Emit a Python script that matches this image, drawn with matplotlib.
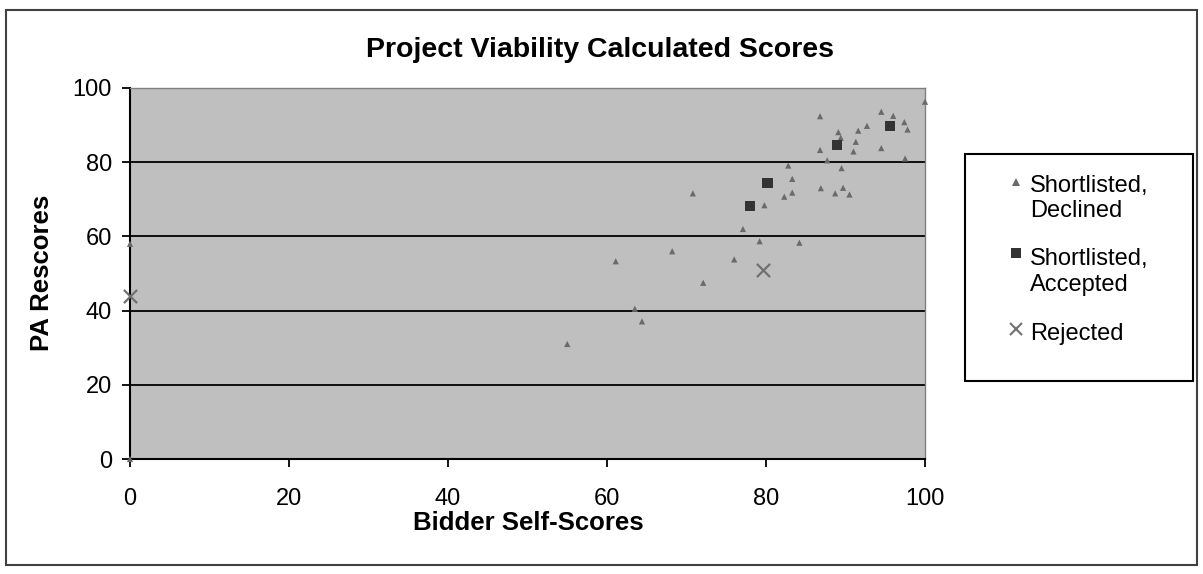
import matplotlib.pyplot as plt
from matplotlib.patches import Rectangle
from matplotlib.lines import Line2D

plt.rcParams['font.family'] = ['Liberation Sans', 'DejaVu Sans']

# Shortlisted, Declined
declined_x = [0, 0, 55, 61.1, 63.5, 64.4, 68.2, 70.8, 72.1, 76, 77.1, 79.2, 79.8,
              82.3, 83.3, 82.8, 83.3, 84.2, 86.8, 86.8, 86.9, 87.7, 88.7, 89.1,
              89.4, 89.5, 89.7, 90.5, 91, 91.3, 91.6, 92.7, 94.5, 94.5, 96, 97.4,
              97.8, 97.5, 100]
declined_y = [0, 58, 31, 53.3, 40.5, 37.1, 56, 71.6, 47.5, 53.8, 62, 58.7, 68.4,
              70.7, 71.8, 79.1, 75.5, 58.3, 92.4, 83.3, 73, 80.5, 71.6, 88.1,
              86.6, 78.4, 73.1, 71.3, 82.9, 85.5, 88.5, 89.8, 93.6, 83.8, 92.5, 90.8,
              88.8, 81, 96.3]

# Shortlisted, Accepted
accepted_x = [78, 80.2, 88.9, 95.6]
accepted_y = [68.2, 74.4, 84.6, 89.8]

# Rejected
rejected_x = [0, 79.6]
rejected_y = [43.9, 50.9]

ticks = [0, 20, 40, 60, 80, 100]

W, H = 1203, 574


def px(x):
    return x / W


def py(y):
    return 1 - y / H


fig = plt.figure(figsize=(W / 100, H / 100), dpi=100)
ax = fig.add_axes([px(130), py(459), px(925) - px(130), py(88) - py(459)])
ax.set_facecolor('#bfbfbf')

ax.scatter(declined_x, declined_y, marker='^', s=20, color='#6a6a6a',
           edgecolors='none', clip_on=False, zorder=3)
ax.scatter(accepted_x, accepted_y, marker='s', s=55, color='#333333',
           edgecolors='none', clip_on=False, zorder=4)
ax.scatter(rejected_x, rejected_y, marker='x', s=90, color='#707070',
           linewidths=1.6, clip_on=False, zorder=4)

ax.set_xlim(0, 100)
ax.set_ylim(0, 100)
ax.set_xticks(ticks)
ax.set_yticks(ticks)
ax.yaxis.grid(True, color='black', linewidth=1.3)
ax.set_axisbelow(True)
ax.tick_params(labelsize=17, length=6, width=1.3, direction='out')
ax.tick_params(axis='y', pad=7)
ax.tick_params(axis='x', pad=15)
for s in ['left', 'bottom']:
    ax.spines[s].set_linewidth(1.5)
    ax.spines[s].set_color('black')
for s in ['top', 'right']:
    ax.spines[s].set_linewidth(1)
    ax.spines[s].set_color('#808080')

fig.text(px(600), py(50), 'Project Viability Calculated Scores', fontsize=20.5,
         fontweight='bold', ha='center', va='center')
fig.text(px(528), py(523), 'Bidder Self-Scores', fontsize=18.5,
         fontweight='bold', ha='center', va='center')
fig.text(px(42), py(273), 'PA Rescores', fontsize=18.5, fontweight='bold',
         rotation=90, ha='center', va='center')

# outer chart border and legend box
fig.add_artist(Rectangle((px(6), py(565)), px(1197) - px(6), py(10) - py(565),
                         transform=fig.transFigure, fill=False,
                         edgecolor='#404040', linewidth=1.5))
fig.add_artist(Rectangle((px(965), py(381)), px(1193) - px(965), py(154) - py(381),
                         transform=fig.transFigure, fill=False,
                         edgecolor='black', linewidth=1.5))

legend_marks = [('^', '#6a6a6a', 6, 182), ('s', '#333333', 7, 253), ('x', '#707070', 9, 329)]
for m, c, ms, y in legend_marks:
    fig.add_artist(Line2D([px(1016)], [py(y)], marker=m, color=c, markersize=ms,
                          markeredgewidth=1.5 if m == 'x' else 0,
                          transform=fig.transFigure))

legend_lines = [('Shortlisted,', 192), ('Declined', 217), ('Shortlisted,', 265),
                ('Accepted', 291), ('Rejected', 340)]
for txt, y in legend_lines:
    fig.text(px(1030), py(y), txt, fontsize=17, ha='left', va='baseline')

fig.savefig('out.png', dpi=100)
